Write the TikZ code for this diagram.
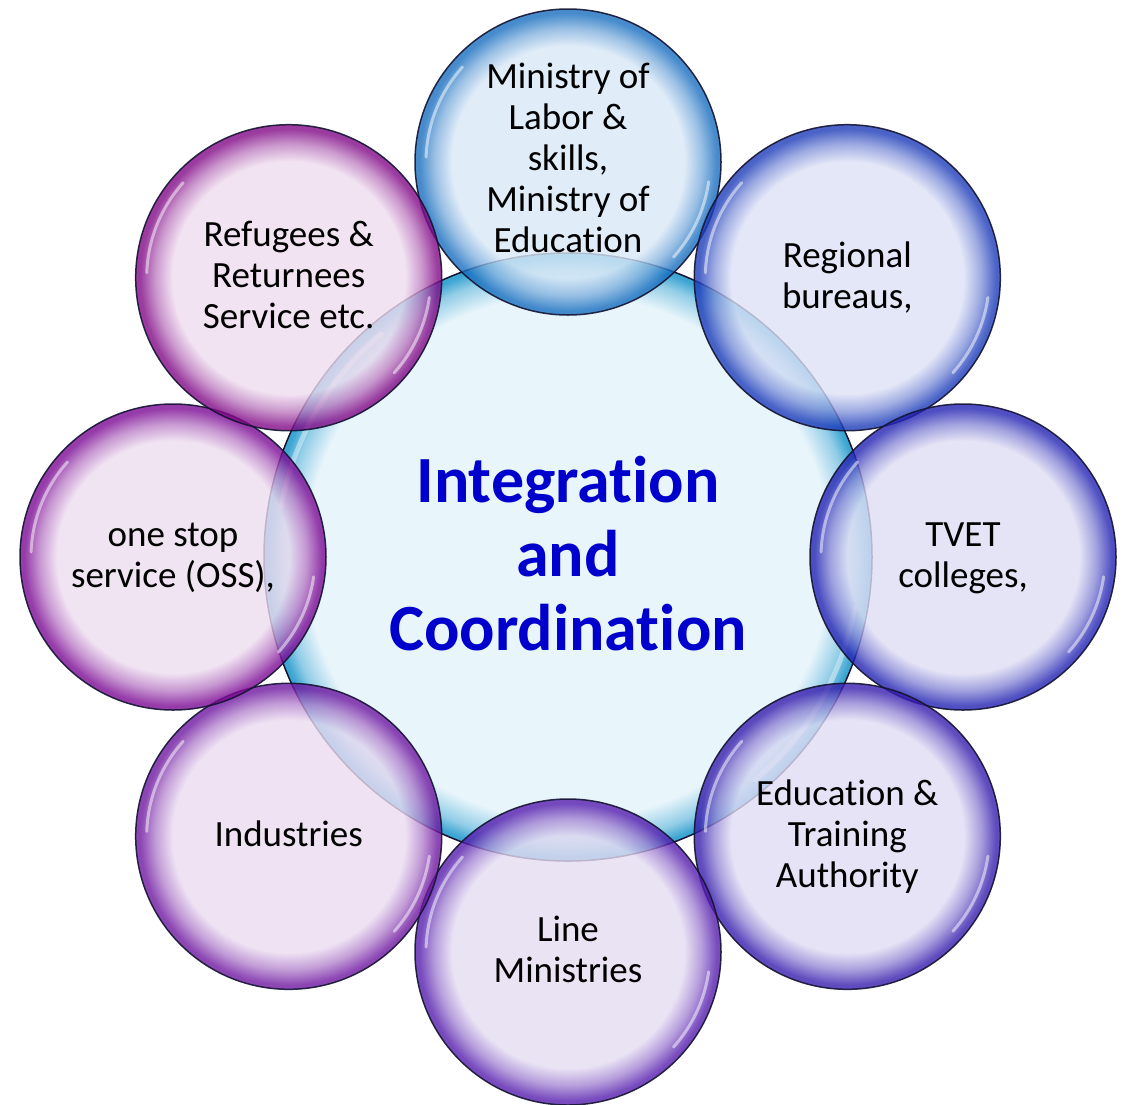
\documentclass[tikz,border=0pt]{standalone}
\usepackage{fontspec}
\setmainfont{Carlito}[Ligatures={NoCommon}]
\pgfdeclareradialshading[bubin,bubout]{bubble}{\pgfpoint{0bp}{0bp}}{color(0bp)=(bubin); color(19bp)=(bubin); color(21.8bp)=(bubin!55!bubout); color(24.3bp)=(bubout); color(25bp)=(bubout); color(50bp)=(bubout)}
\pgfdeclareradialshading[cenin,cenout]{bigbubble}{\pgfpoint{0bp}{0bp}}{color(0bp)=(cenin); color(21.6bp)=(cenin); color(23.6bp)=(cenin!50!cenout); color(24.7bp)=(cenout); color(25bp)=(cenout); color(50bp)=(cenout)}
\definecolor{inT}{RGB}{217,232,247}\definecolor{outT}{RGB}{25,111,192}
\definecolor{inTR}{RGB}{221,225,246}\definecolor{outTR}{RGB}{30,61,186}
\definecolor{inR}{RGB}{222,222,244}\definecolor{outR}{RGB}{36,36,180}
\definecolor{inBR}{RGB}{225,221,244}\definecolor{outBR}{RGB}{55,30,174}
\definecolor{inB}{RGB}{229,220,242}\definecolor{outB}{RGB}{86,30,174}
\definecolor{inBL}{RGB}{235,220,241}\definecolor{outBL}{RGB}{111,24,161}
\definecolor{inL}{RGB}{237,220,239}\definecolor{outL}{RGB}{124,11,149}
\definecolor{inTL}{RGB}{239,221,239}\definecolor{outTL}{RGB}{130,11,136}
\definecolor{cenin}{RGB}{232,245,251}\definecolor{cenout}{RGB}{60,165,210}
\definecolor{edgec}{RGB}{20,20,50}
\definecolor{ctext}{RGB}{0,0,204}
\tikzset{
  bub/.style={circle, minimum size=306pt, inner sep=0pt, shade, shading=bubble,
    fill opacity=0.8, draw=edgec, draw opacity=0.9, line width=1.5pt},
  cen/.style={circle, minimum size=608pt, inner sep=0pt, shade, shading=bigbubble,
    draw=edgec, line width=1.5pt},
  hl/.style={white, line width=3pt, line cap=round, draw opacity=0.5},
  lbl/.style={font=\fontsize{37}{41}\selectfont, align=center, anchor=base, inner sep=0pt, text=black},
  ctxt/.style={font=\fontsize{66}{74}\selectfont\bfseries, align=center, anchor=base, inner sep=0pt, text=ctext}
}
\newcommand{\bubhl}[1]{%
  \draw[hl] ([shift={(182:142)}]#1.center) arc[start angle=182, end angle=222, radius=142];
  \draw[hl] ([shift={(8:142)}]#1.center) arc[start angle=8, end angle=42, radius=142];}
\begin{document}
\begin{tikzpicture}[x=1pt,y=-1pt]
\useasboundingbox[fill=white] (0,0) rectangle (1124,1104);
% central circle
\node[cen] (c) at (568,557) {};
\draw[white, line width=5pt, line cap=round, draw opacity=0.4] ([shift={(10:291)}]c.center) arc[start angle=10, end angle=50, radius=291];
\draw[white, line width=5pt, line cap=round, draw opacity=0.4] ([shift={(190:291)}]c.center) arc[start angle=190, end angle=230, radius=291];
% outer circles
\colorlet{bubin}{inT}\colorlet{bubout}{outT}
\node[bub] (t) at (568,162) {};
\bubhl{t}
\colorlet{bubin}{inTR}\colorlet{bubout}{outTR}
\node[bub] (tr) at (847.3,277.7) {};
\bubhl{tr}
\colorlet{bubin}{inR}\colorlet{bubout}{outR}
\node[bub] (r) at (963,557) {};
\bubhl{r}
\colorlet{bubin}{inBR}\colorlet{bubout}{outBR}
\node[bub] (br) at (847.3,836.3) {};
\bubhl{br}
\colorlet{bubin}{inB}\colorlet{bubout}{outB}
\node[bub] (b) at (568,952) {};
\bubhl{b}
\colorlet{bubin}{inBL}\colorlet{bubout}{outBL}
\node[bub] (bl) at (288.7,836.3) {};
\bubhl{bl}
\colorlet{bubin}{inL}\colorlet{bubout}{outL}
\node[bub] (l) at (173,557) {};
\bubhl{l}
\colorlet{bubin}{inTL}\colorlet{bubout}{outTL}
\node[bub] (tl) at (288.7,277.7) {};
\bubhl{tl}
% texts (base anchor = last line's baseline)
\node[ctxt] (ctx) at (568,650) {Integration\\and\\Coordination};
\node[lbl] (ttx) at (568,252) {Ministry of\\Labor \&\\skills,\\Ministry of\\Education};
\node[lbl] (trtx) at (847.3,308.2) {Regional\\bureaus,};
\node[lbl] (rtx) at (963,587.5) {TVET\\colleges,};
\node[lbl] (brtx) at (847.3,887.3) {Education \&\\Training\\Authority};
\node[lbl] (btx) at (568,982.5) {Line\\Ministries};
\node[lbl] (bltx) at (288.7,846.3) {Industries};
\node[lbl] (ltx) at (173,587.5) {one stop\\service (OSS),};
\node[lbl] (tltx) at (288.7,328.7) {Refugees \&\\Returnees\\Service etc.};
\end{tikzpicture}
\end{document}
